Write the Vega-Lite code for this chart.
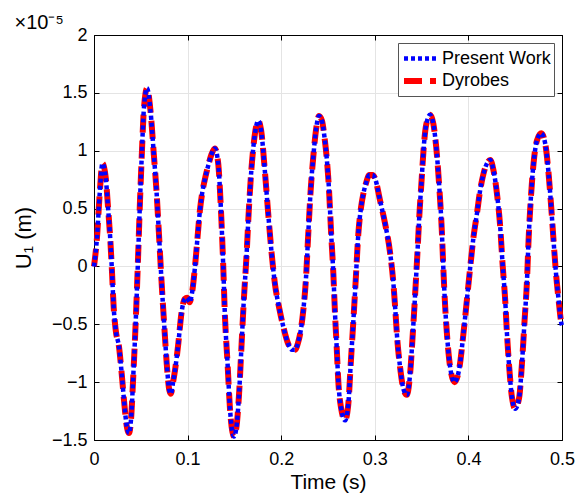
{
  "$schema": "https://vega.github.io/schema/vega-lite/v6.json",
  "width": 468,
  "height": 405,
  "autosize": {"type": "none"},
  "padding": {"left": 94, "top": 35, "right": 24, "bottom": 54},
  "background": "white",
  "title": {"text": "×10⁻⁵", "anchor": "start", "fontSize": 20, "fontWeight": "normal", "font": "Liberation Sans", "color": "black", "offset": -7, "dx": 2},
  "config": {
    "view": {"stroke": "black", "strokeWidth": 1},
    "font": "Liberation Sans",
    "axis": {
      "labelFontSize": 18, "labelColor": "black", "labelFont": "Liberation Sans", "labelFlush": false, "labelOverlap": false,
      "titleFontSize": 21, "titleFontWeight": "normal", "titleColor": "black", "titleFont": "Liberation Sans",
      "domainColor": "black", "tickColor": "black", "tickSize": -5, "gridColor": "#e4e4e4", "gridWidth": 1
    }
  },
  "data": {"values": [
    {"t": 0, "pw": 0, "dy": 0},
    {"t": 0.0032, "pw": 0.25, "dy": 0.25},
    {"t": 0.0061, "pw": 0.63, "dy": 0.63},
    {"t": 0.009, "pw": 0.89, "dy": 0.89},
    {"t": 0.0125, "pw": 0.77, "dy": 0.77},
    {"t": 0.015, "pw": 0.51, "dy": 0.51},
    {"t": 0.0175, "pw": 0.22, "dy": 0.22},
    {"t": 0.0193, "pw": -0.06, "dy": -0.06},
    {"t": 0.021, "pw": -0.35, "dy": -0.35},
    {"t": 0.0232, "pw": -0.55, "dy": -0.55},
    {"t": 0.0268, "pw": -0.7, "dy": -0.7},
    {"t": 0.0293, "pw": -0.9, "dy": -0.9},
    {"t": 0.0321, "pw": -1.16, "dy": -1.16},
    {"t": 0.0346, "pw": -1.36, "dy": -1.36},
    {"t": 0.0374, "pw": -1.44, "dy": -1.44},
    {"t": 0.04, "pw": -1.27, "dy": -1.27},
    {"t": 0.0417, "pw": -0.99, "dy": -0.99},
    {"t": 0.0446, "pw": -0.47, "dy": -0.47},
    {"t": 0.0471, "pw": 0.08, "dy": 0.08},
    {"t": 0.0489, "pw": 0.51, "dy": 0.51},
    {"t": 0.051, "pw": 0.95, "dy": 0.95},
    {"t": 0.0532, "pw": 1.35, "dy": 1.35},
    {"t": 0.0567, "pw": 1.54, "dy": 1.54},
    {"t": 0.0603, "pw": 1.35, "dy": 1.35},
    {"t": 0.0639, "pw": 0.97, "dy": 0.97},
    {"t": 0.0667, "pw": 0.66, "dy": 0.66},
    {"t": 0.0692, "pw": 0.31, "dy": 0.31},
    {"t": 0.0721, "pw": -0.12, "dy": -0.12},
    {"t": 0.0756, "pw": -0.58, "dy": -0.58},
    {"t": 0.0778, "pw": -0.85, "dy": -0.85},
    {"t": 0.0805, "pw": -1.07, "dy": -1.07},
    {"t": 0.0822, "pw": -1.1, "dy": -1.1},
    {"t": 0.0845, "pw": -1.0, "dy": -1.0},
    {"t": 0.0865, "pw": -0.9, "dy": -0.9},
    {"t": 0.0899, "pw": -0.68, "dy": -0.68},
    {"t": 0.0935, "pw": -0.4, "dy": -0.4},
    {"t": 0.097, "pw": -0.28, "dy": -0.28},
    {"t": 0.0995, "pw": -0.27, "dy": -0.27},
    {"t": 0.1022, "pw": -0.31, "dy": -0.31},
    {"t": 0.1045, "pw": -0.24, "dy": -0.24},
    {"t": 0.1077, "pw": -0.02, "dy": -0.02},
    {"t": 0.1106, "pw": 0.25, "dy": 0.25},
    {"t": 0.1131, "pw": 0.48, "dy": 0.48},
    {"t": 0.1155, "pw": 0.63, "dy": 0.63},
    {"t": 0.1184, "pw": 0.75, "dy": 0.75},
    {"t": 0.122, "pw": 0.87, "dy": 0.87},
    {"t": 0.1256, "pw": 0.97, "dy": 0.97},
    {"t": 0.1291, "pw": 1.02, "dy": 1.02},
    {"t": 0.1327, "pw": 0.89, "dy": 0.89},
    {"t": 0.1355, "pw": 0.51, "dy": 0.51},
    {"t": 0.138, "pw": 0.02, "dy": 0.02},
    {"t": 0.1398, "pw": -0.41, "dy": -0.41},
    {"t": 0.1427, "pw": -0.84, "dy": -0.84},
    {"t": 0.1452, "pw": -1.22, "dy": -1.22},
    {"t": 0.1495, "pw": -1.47, "dy": -1.47},
    {"t": 0.152, "pw": -1.4, "dy": -1.4},
    {"t": 0.155, "pw": -1.1, "dy": -1.1},
    {"t": 0.1575, "pw": -0.7, "dy": -0.7},
    {"t": 0.16, "pw": -0.3, "dy": -0.3},
    {"t": 0.163, "pw": 0.1, "dy": 0.1},
    {"t": 0.1655, "pw": 0.5, "dy": 0.5},
    {"t": 0.168, "pw": 0.82, "dy": 0.82},
    {"t": 0.1705, "pw": 1.05, "dy": 1.05},
    {"t": 0.173, "pw": 1.2, "dy": 1.2},
    {"t": 0.1754, "pw": 1.26, "dy": 1.26},
    {"t": 0.1785, "pw": 1.18, "dy": 1.18},
    {"t": 0.1826, "pw": 0.82, "dy": 0.82},
    {"t": 0.1861, "pw": 0.46, "dy": 0.46},
    {"t": 0.1897, "pw": 0.12, "dy": 0.12},
    {"t": 0.1933, "pw": -0.15, "dy": -0.15},
    {"t": 0.1979, "pw": -0.36, "dy": -0.36},
    {"t": 0.2022, "pw": -0.52, "dy": -0.52},
    {"t": 0.2075, "pw": -0.67, "dy": -0.67},
    {"t": 0.2115, "pw": -0.72, "dy": -0.72},
    {"t": 0.2147, "pw": -0.72, "dy": -0.72},
    {"t": 0.218, "pw": -0.66, "dy": -0.66},
    {"t": 0.2215, "pw": -0.52, "dy": -0.52},
    {"t": 0.2236, "pw": -0.38, "dy": -0.38},
    {"t": 0.2265, "pw": -0.1, "dy": -0.1},
    {"t": 0.2289, "pw": 0.28, "dy": 0.28},
    {"t": 0.2315, "pw": 0.66, "dy": 0.66},
    {"t": 0.2343, "pw": 0.95, "dy": 0.95},
    {"t": 0.2372, "pw": 1.18, "dy": 1.18},
    {"t": 0.2404, "pw": 1.3, "dy": 1.3},
    {"t": 0.2435, "pw": 1.26, "dy": 1.26},
    {"t": 0.2465, "pw": 1.1, "dy": 1.1},
    {"t": 0.2486, "pw": 0.94, "dy": 0.94},
    {"t": 0.2511, "pw": 0.66, "dy": 0.66},
    {"t": 0.2532, "pw": 0.31, "dy": 0.31},
    {"t": 0.2557, "pw": -0.06, "dy": -0.06},
    {"t": 0.2575, "pw": -0.41, "dy": -0.41},
    {"t": 0.2593, "pw": -0.7, "dy": -0.7},
    {"t": 0.261, "pw": -0.99, "dy": -0.99},
    {"t": 0.2639, "pw": -1.22, "dy": -1.22},
    {"t": 0.2682, "pw": -1.33, "dy": -1.33},
    {"t": 0.2717, "pw": -1.19, "dy": -1.19},
    {"t": 0.2743, "pw": -0.84, "dy": -0.84},
    {"t": 0.2771, "pw": -0.47, "dy": -0.47},
    {"t": 0.2796, "pw": -0.12, "dy": -0.12},
    {"t": 0.2824, "pw": 0.28, "dy": 0.28},
    {"t": 0.2853, "pw": 0.51, "dy": 0.51},
    {"t": 0.2878, "pw": 0.63, "dy": 0.63},
    {"t": 0.2903, "pw": 0.71, "dy": 0.71},
    {"t": 0.2942, "pw": 0.79, "dy": 0.79},
    {"t": 0.2975, "pw": 0.79, "dy": 0.79},
    {"t": 0.3003, "pw": 0.76, "dy": 0.76},
    {"t": 0.3056, "pw": 0.57, "dy": 0.57},
    {"t": 0.311, "pw": 0.37, "dy": 0.37},
    {"t": 0.3163, "pw": 0.12, "dy": 0.12},
    {"t": 0.3199, "pw": -0.15, "dy": -0.15},
    {"t": 0.3217, "pw": -0.35, "dy": -0.35},
    {"t": 0.3241, "pw": -0.64, "dy": -0.64},
    {"t": 0.327, "pw": -0.87, "dy": -0.87},
    {"t": 0.3306, "pw": -1.06, "dy": -1.06},
    {"t": 0.3342, "pw": -1.11, "dy": -1.11},
    {"t": 0.3377, "pw": -0.93, "dy": -0.93},
    {"t": 0.3406, "pw": -0.58, "dy": -0.58},
    {"t": 0.3431, "pw": -0.24, "dy": -0.24},
    {"t": 0.3455, "pw": 0.11, "dy": 0.11},
    {"t": 0.3477, "pw": 0.455, "dy": 0.455},
    {"t": 0.3502, "pw": 0.77, "dy": 0.77},
    {"t": 0.352, "pw": 1.0, "dy": 1.0},
    {"t": 0.3548, "pw": 1.22, "dy": 1.22},
    {"t": 0.3591, "pw": 1.31, "dy": 1.31},
    {"t": 0.3626, "pw": 1.23, "dy": 1.23},
    {"t": 0.3663, "pw": 0.97, "dy": 0.97},
    {"t": 0.3691, "pw": 0.66, "dy": 0.66},
    {"t": 0.3716, "pw": 0.31, "dy": 0.31},
    {"t": 0.3733, "pw": -0.03, "dy": -0.03},
    {"t": 0.3752, "pw": -0.35, "dy": -0.35},
    {"t": 0.3776, "pw": -0.64, "dy": -0.64},
    {"t": 0.3805, "pw": -0.87, "dy": -0.87},
    {"t": 0.3851, "pw": -1.0, "dy": -1.0},
    {"t": 0.3905, "pw": -0.87, "dy": -0.87},
    {"t": 0.3947, "pw": -0.58, "dy": -0.58},
    {"t": 0.399, "pw": -0.24, "dy": -0.24},
    {"t": 0.4019, "pw": -0.01, "dy": -0.01},
    {"t": 0.4054, "pw": 0.25, "dy": 0.25},
    {"t": 0.4091, "pw": 0.455, "dy": 0.455},
    {"t": 0.4126, "pw": 0.66, "dy": 0.66},
    {"t": 0.4161, "pw": 0.8, "dy": 0.8},
    {"t": 0.4198, "pw": 0.89, "dy": 0.89},
    {"t": 0.4233, "pw": 0.92, "dy": 0.92},
    {"t": 0.4268, "pw": 0.83, "dy": 0.83},
    {"t": 0.4305, "pw": 0.63, "dy": 0.63},
    {"t": 0.434, "pw": 0.34, "dy": 0.34},
    {"t": 0.4365, "pw": 0.02, "dy": 0.02},
    {"t": 0.4393, "pw": -0.29, "dy": -0.29},
    {"t": 0.4412, "pw": -0.58, "dy": -0.58},
    {"t": 0.4436, "pw": -0.87, "dy": -0.87},
    {"t": 0.4465, "pw": -1.13, "dy": -1.13},
    {"t": 0.45, "pw": -1.23, "dy": -1.23},
    {"t": 0.4543, "pw": -1.13, "dy": -1.13},
    {"t": 0.4572, "pw": -0.84, "dy": -0.84},
    {"t": 0.46, "pw": -0.47, "dy": -0.47},
    {"t": 0.4626, "pw": -0.12, "dy": -0.12},
    {"t": 0.4643, "pw": 0.23, "dy": 0.23},
    {"t": 0.4668, "pw": 0.6, "dy": 0.6},
    {"t": 0.4696, "pw": 0.89, "dy": 0.89},
    {"t": 0.4733, "pw": 1.09, "dy": 1.09},
    {"t": 0.4779, "pw": 1.15, "dy": 1.15},
    {"t": 0.4821, "pw": 1.06, "dy": 1.06},
    {"t": 0.4857, "pw": 0.8, "dy": 0.8},
    {"t": 0.4885, "pw": 0.51, "dy": 0.51},
    {"t": 0.491, "pw": 0.22, "dy": 0.22},
    {"t": 0.4936, "pw": -0.06, "dy": -0.06},
    {"t": 0.4964, "pw": -0.29, "dy": -0.29},
    {"t": 0.4993, "pw": -0.49, "dy": -0.49},
    {"t": 0.5, "pw": -0.51, "dy": -0.51}
  ]},
  "transform": [{"fold": ["dy", "pw"], "as": ["s", "v"]}],
  "resolve": {"axis": {"x": "independent", "y": "independent"}},
  "layer": [
    {
      "transform": [{"filter": "datum.s == 'dy'"}],
      "mark": {"type": "line", "interpolate": "monotone", "strokeCap": "butt"},
      "encoding": {
        "x": {"field": "t", "type": "quantitative", "scale": {"domain": [0, 0.5], "nice": false},
              "axis": {"orient": "bottom", "values": [0, 0.1, 0.2, 0.3, 0.4, 0.5], "format": "~g", "title": "Time (s)", "labelPadding": 15, "titlePadding": 3, "grid": true}},
        "y": {"field": "v", "type": "quantitative", "scale": {"domain": [-1.5, 2], "nice": false, "zero": false},
              "axis": {"orient": "left", "values": [-1.5, -1, -0.5, 0, 0.5, 1, 1.5, 2], "format": "~g", "title": "U₁ (m)", "titleFontSize": 22, "labelPadding": 12, "titlePadding": 16, "grid": true}},
        "color": {"field": "s", "type": "nominal", "scale": {"domain": ["pw", "dy"], "range": ["#0000ff", "#ff0000"]},
                  "legend": {"title": null, "orient": "top-right", "offset": 8, "labelExpr": "datum.label == 'pw' ? 'Present Work' : 'Dyrobes'",
                             "labelFontSize": 18, "labelColor": "black", "labelFont": "Liberation Sans", "symbolType": "M-1.6,0H1.6", "symbolSize": 400,
                             "symbolOffset": 6, "strokeColor": "#555555", "fillColor": "white", "padding": 3, "rowPadding": -6, "labelOffset": 9}},
        "strokeDash": {"field": "s", "type": "nominal", "scale": {"domain": ["pw", "dy"], "range": [[4, 3], [18, 8]]}},
        "strokeWidth": {"field": "s", "type": "nominal", "scale": {"domain": ["pw", "dy"], "range": [4.5, 6]}}
      }
    },
    {
      "transform": [{"filter": "datum.s == 'pw'"}],
      "mark": {"type": "line", "interpolate": "monotone", "strokeCap": "butt"},
      "encoding": {
        "x": {"field": "t", "type": "quantitative", "scale": {"domain": [0, 0.5], "nice": false},
              "axis": {"orient": "top", "values": [0, 0.1, 0.2, 0.3, 0.4, 0.5], "labels": false, "title": null, "grid": false}},
        "y": {"field": "v", "type": "quantitative", "scale": {"domain": [-1.5, 2], "nice": false, "zero": false},
              "axis": {"orient": "right", "values": [-1.5, -1, -0.5, 0, 0.5, 1, 1.5, 2], "labels": false, "title": null, "grid": false}},
        "color": {"field": "s", "type": "nominal"},
        "strokeDash": {"field": "s", "type": "nominal"},
        "strokeWidth": {"field": "s", "type": "nominal"}
      }
    }
  ]
}
